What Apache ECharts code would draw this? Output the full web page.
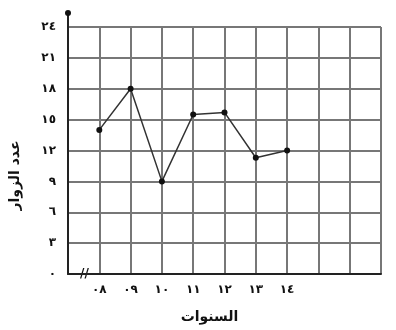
<!DOCTYPE html>
<html>
<head>
<meta charset="utf-8">
<script src="https://cdn.jsdelivr.net/npm/echarts@6/dist/echarts.min.js"></script>
<style>
  html, body { margin: 0; padding: 0; background: #fff; }
  #view1 { width: 396px; height: 330px; }
</style>
</head>
<body>
<div id="view1"></div>
<script>
// years sit on the grid lines 1..7, 0 is the (broken) origin
var years = ['٠٨', '٠٩', '١٠', '١١', '١٢', '١٣', '١٤'];
var yearPos = [1, 2, 3, 4, 5, 6, 7];
var visitors = [14, 18, 9, 15.5, 15.7, 11.3, 12];
var yTicks = ['٠', '٣', '٦', '٩', '١٢', '١٥', '١٨', '٢١', '٢٤'];

var font = '"DejaVu Sans", sans-serif';

var points = yearPos.map(function (x, i) { return [x, visitors[i]]; });

var chart = echarts.init(document.getElementById('view1'));

var option = {
  animation: false,
  grid: {
    left: 68,
    right: 15,
    top: 27,
    bottom: 56
  },
  xAxis: {
    type: 'value',
    min: 0,
    max: 10,
    interval: 1,
    axisLine: { show: true, onZero: false, lineStyle: { color: '#222', width: 2 } },
    axisTick: { show: false },
    splitLine: { show: true, lineStyle: { color: '#777', width: 2 } },
    axisLabel: {
      margin: 10,
      fontFamily: font,
      fontWeight: 'bold',
      fontSize: 12,
      color: '#111',
      formatter: function (v) {
        var i = yearPos.indexOf(v);
        return i >= 0 ? years[i] : '';
      }
    },
    name: 'السنوات',
    nameLocation: 'middle',
    nameGap: 36,
    nameTextStyle: { fontFamily: font, fontWeight: 'bold', fontSize: 14, color: '#111', padding: [0, 0, 0, -30] }
  },
  yAxis: {
    type: 'value',
    min: 0,
    max: 24,
    interval: 3,
    axisLine: { show: true, lineStyle: { color: '#222', width: 2 } },
    axisTick: { show: false },
    splitLine: { show: true, lineStyle: { color: '#777', width: 2 } },
    axisLabel: {
      margin: 12,
      fontFamily: font,
      fontWeight: 'bold',
      fontSize: 12,
      color: '#111',
      formatter: function (v) { return yTicks[v / 3]; }
    },
    name: 'عدد الزوار',
    nameLocation: 'middle',
    nameGap: 46,
    nameRotate: 90,
    nameTextStyle: { fontFamily: font, fontWeight: 'bold', fontSize: 14, color: '#111', padding: [0, 0, 0, -50] }
  },
  series: [{
    type: 'line',
    data: points,
    symbol: 'circle',
    symbolSize: 6,
    itemStyle: { color: '#111' },
    lineStyle: { color: '#333', width: 1.5 }
  }]
};

chart.setOption(option);

// axis arrow dot above the y axis and the break mark on the x axis
var yTop = chart.convertToPixel({ gridIndex: 0 }, [0, 24]);
var origin = chart.convertToPixel({ gridIndex: 0 }, [0, 0]);
chart.setOption({
  graphic: [
    { type: 'line', shape: { x1: yTop[0], y1: yTop[1], x2: yTop[0], y2: yTop[1] - 14 }, style: { stroke: '#222', lineWidth: 2 } },
    { type: 'circle', shape: { cx: yTop[0], cy: yTop[1] - 14, r: 3 }, style: { fill: '#111' } },
    { type: 'text', x: origin[0] + 12, y: origin[1] - 6, style: { text: '//', font: 'bold 12px ' + font, fill: '#111' } }
  ]
});
</script>
</body>
</html>
